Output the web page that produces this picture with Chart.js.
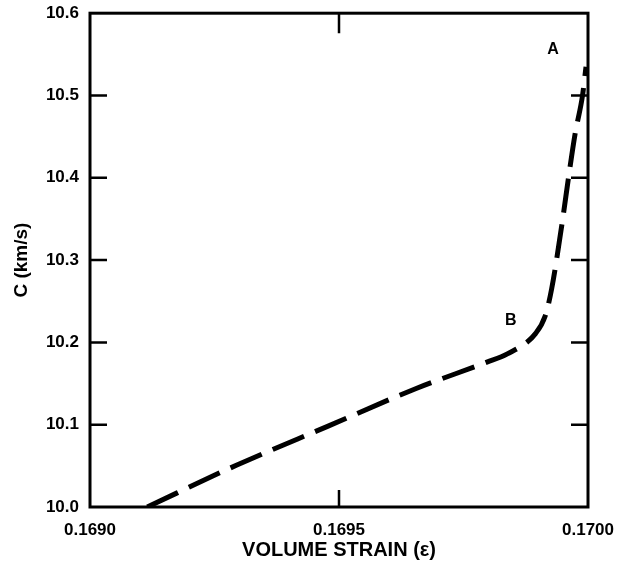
<!DOCTYPE html>
<html>
<head>
<meta charset="utf-8">
<script src="https://cdn.jsdelivr.net/npm/chart.js@4"></script>
<style>
  body { margin: 0; background: #fff; }
  #wrap { width: 624px; height: 567px; }
</style>
</head>
<body>
<div id="wrap"><canvas id="strainChart" width="624" height="567"></canvas></div>
<script>
// curve
const strain = [0.169115, 0.169295, 0.169477, 0.169655, 0.169797, 0.169838, 0.169895, 0.169914, 0.169927, 0.169948, 0.169962, 0.169974, 0.169989, 0.169996];
const velocity = [10.0, 10.051, 10.098, 10.144, 10.176, 10.186, 10.211, 10.232, 10.265, 10.345, 10.405, 10.453, 10.50, 10.535];

const xTicks = [0.1690, 0.1695, 0.1700];
const yTicks = [10.0, 10.1, 10.2, 10.3, 10.4, 10.5, 10.6];

const markNames = ['A', 'B'];
const markX = [0.16993, 0.169845];
const markY = [10.556, 10.226];

const fam = '"Liberation Sans", Arial, sans-serif';

// box round the plot, inward ticks and the A / B letters
const framePlugin = {
  id: 'frame',
  afterDraw(chart) {
    const ctx = chart.ctx;
    const a = chart.chartArea;
    const xs = chart.scales.x, ys = chart.scales.y;
    ctx.save();
    ctx.strokeStyle = '#000';
    ctx.lineWidth = 3;
    ctx.strokeRect(a.left, a.top, a.right - a.left, a.bottom - a.top);

    ctx.lineWidth = 2.5;
    ctx.beginPath();
    yTicks.slice(1, -1).forEach(v => {
      const py = ys.getPixelForValue(v);
      ctx.moveTo(a.left, py); ctx.lineTo(a.left + 17, py);
      ctx.moveTo(a.right, py); ctx.lineTo(a.right - 17, py);
    });
    xTicks.slice(1, -1).forEach(v => {
      const px = xs.getPixelForValue(v);
      ctx.moveTo(px, a.bottom); ctx.lineTo(px, a.bottom - 17);
      ctx.moveTo(px, a.top); ctx.lineTo(px, a.top + 20);
    });
    ctx.stroke();

    ctx.fillStyle = '#000';
    ctx.font = 'bold 16px ' + fam;
    ctx.textAlign = 'center';
    ctx.textBaseline = 'middle';
    markNames.forEach((n, i) => {
      ctx.fillText(n, xs.getPixelForValue(markX[i]), ys.getPixelForValue(markY[i]));
    });
    ctx.restore();
  }
};

new Chart(document.getElementById('strainChart'), {
  type: 'scatter',
  data: {
    datasets: [{
      data: strain.map((s, i) => ({ x: s, y: velocity[i] })),
      showLine: true,
      borderColor: '#000',
      borderWidth: 5,
      borderDash: [34, 12],
      borderCapStyle: 'butt',
      cubicInterpolationMode: 'monotone',
      pointRadius: 0,
      fill: false
    }]
  },
  options: {
    responsive: false,
    animation: false,
    events: [],
    layout: { padding: { left: 0, top: 10, right: 36, bottom: 0 } },
    plugins: {
      legend: { display: false },
      tooltip: { enabled: false }
    },
    scales: {
      x: {
        type: 'linear',
        min: 0.1690,
        max: 0.1700,
        afterBuildTicks: scale => { scale.ticks = xTicks.map(v => ({ value: v })); },
        afterFit: scale => { scale.height = 60; },
        grid: { display: false },
        border: { display: false },
        ticks: {
          color: '#000',
          font: { family: fam, size: 17, weight: 'bold' },
          padding: 5,
          maxRotation: 0,
          callback: v => v.toFixed(4)
        },
        title: {
          display: true,
          text: 'VOLUME STRAIN (ε)',
          color: '#000',
          font: { family: fam, size: 20, weight: 'bold' },
          padding: { top: 0, bottom: 5 }
        }
      },
      y: {
        type: 'linear',
        min: 10.0,
        max: 10.6,
        afterBuildTicks: scale => { scale.ticks = yTicks.map(v => ({ value: v })); },
        afterFit: scale => { scale.width = 90; },
        grid: { display: false },
        border: { display: false },
        ticks: {
          color: '#000',
          font: { family: fam, size: 17, weight: 'bold' },
          padding: 3,
          callback: v => v.toFixed(1)
        },
        title: {
          display: true,
          text: 'C (km/s)',
          color: '#000',
          font: { family: fam, size: 19, weight: 'bold' },
          padding: { top: 10, bottom: 0 }
        }
      }
    }
  },
  plugins: [framePlugin]
});
</script>
</body>
</html>
